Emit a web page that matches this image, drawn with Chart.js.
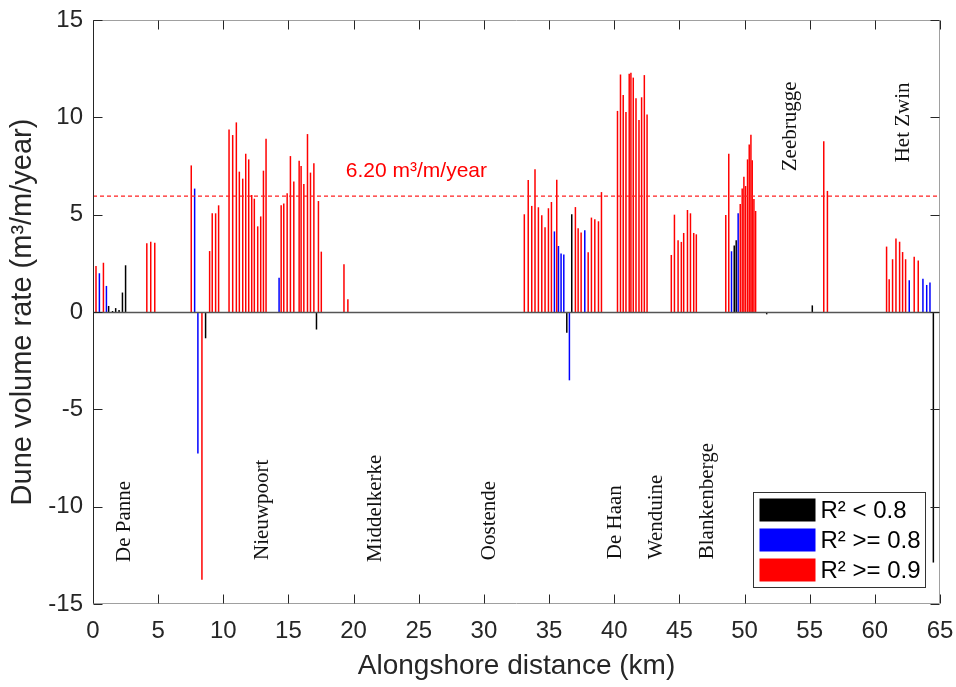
<!DOCTYPE html>
<html>
<head>
<meta charset="utf-8">
<script src="https://cdn.jsdelivr.net/npm/chart.js@4.4.0/dist/chart.umd.min.js"></script>
<style>
  html, body { margin: 0; padding: 0; background: #fff; }
  canvas { display: block; }
</style>
</head>
<body>
<canvas id="duneChart" width="956" height="687"></canvas>
<script>
// transects with R² < 0.8
var blackKm   = [1.2, 1.5, 1.74, 2.0, 2.26, 2.5, 8.64, 17.15, 36.36, 36.74, 49.21, 49.36, 51.7, 55.2, 64.49];
var blackRate = [0.31, 0.05, 0.2, 0.1, 1.0, 2.4, -1.35, -0.9, -1.06, 5.02, 3.42, 3.68, -0.12, 0.34, -12.87];

// transects with R² >= 0.8
var blueKm   = [0.49, 1.03, 7.8, 8.05, 14.28, 35.41, 35.72, 35.92, 36.13, 36.56, 37.74, 49.0, 49.51, 62.64, 63.69, 63.98, 64.23];
var blueRate = [1.99, 1.34, 6.34, -7.27, 1.76, 4.14, 3.39, 3.01, 2.96, -3.51, 4.2, 3.12, 5.07, 1.63, 1.71, 1.39, 1.51];

// transects with R² >= 0.9
var redKm = [0.23, 0.8, 4.13, 4.43, 4.74, 7.54, 8.36, 8.95, 9.15, 9.41, 9.64,
  10.44, 10.72, 11.0, 11.23, 11.49, 11.72, 11.95, 12.18, 12.38, 12.64, 12.87, 13.08, 13.28,
  14.44, 14.64, 14.9, 15.15, 15.41, 15.82, 15.97, 16.18, 16.46, 16.69, 16.95, 17.3, 17.52,
  19.26, 19.56,
  33.1, 33.4, 33.67, 33.92, 34.18, 34.44, 34.69, 34.95, 35.18, 35.59,
  37.02, 37.23, 37.46, 38.0, 38.25, 38.51, 38.79, 39.02,
  40.25, 40.48, 40.69, 40.9, 41.15, 41.28, 41.46, 41.67, 41.9, 42.1, 42.31, 42.52,
  44.38, 44.62, 44.9, 45.15, 45.33, 45.62, 45.85, 46.1, 46.3,
  48.56, 48.79, 49.67, 49.82, 49.95, 50.08, 50.23, 50.36, 50.49, 50.59, 50.72, 50.85,
  56.08, 56.36,
  60.9, 61.1, 61.36, 61.62, 61.9, 62.13, 62.36, 63.02, 63.33];
var redRate = [2.36, 2.53, 3.53, 3.61, 3.56, 7.53, -13.76, 3.13, 5.07, 5.07, 5.48,
  9.38, 9.09, 9.74, 7.21, 6.85, 8.13, 7.84, 6.01, 5.82, 4.4, 4.91, 7.26, 8.9,
  5.48, 5.58, 6.1, 8.01, 6.71, 7.77, 7.5, 6.58, 9.14, 7.16, 7.64, 5.7, 3.1,
  2.45, 0.65,
  5.02, 6.78, 5.45, 7.33, 5.38, 4.97, 4.35, 5.33, 5.65, 6.8,
  5.39, 4.3, 4.09, 3.07, 4.85, 4.76, 4.66, 6.16,
  10.33, 12.2, 11.15, 10.27, 12.24, 12.29, 12.04, 10.98, 9.86, 11.03, 12.17, 10.15,
  2.93, 5.0, 3.68, 3.6, 4.06, 5.24, 5.07, 4.06, 3.99,
  4.98, 8.13, 5.55, 6.34, 6.95, 6.47, 7.84, 8.61, 9.11, 7.79, 5.8, 5.19,
  8.77, 6.22,
  3.36, 1.68, 2.71, 3.78, 3.61, 3.08, 2.71, 2.84, 2.65];

var thresholdRate = 5.95;
var thresholdText = '6.20 m³/m/year';
var thresholdTextAt = [19.4, 6.92];

var towns    = ['De Panne', 'Nieuwpoort', 'Middelkerke', 'Oostende', 'De Haan', 'Wenduine', 'Blankenberge', 'Zeebrugge', 'Het Zwin'];
var townKm   = [2.85, 13.4, 22.1, 30.85, 40.5, 43.7, 47.57, 53.95, 62.6];
var townRate = [-12.84, -12.74, -12.84, -12.75, -12.7, -12.7, -12.7, 7.23, 7.69];

var legendLabels = ['R² < 0.8', 'R² >= 0.8', 'R² >= 0.9'];
var legendColours = ['#000000', '#0000ff', '#ff0000'];

function toPoints(xs, ys) {
    var pts = [];
    for (var i = 0; i < xs.length; i++) {
        pts.push({ x: xs[i], y: ys[i] });
    }
    return pts;
}

var sans = '"Liberation Sans", Arial, sans-serif';
var serif = '"Liberation Serif", "Times New Roman", serif';

const overlay = {
    id: 'overlay',
    afterDatasetsDraw(chart) {
        const { ctx, chartArea: a, scales: { x, y } } = chart;
        ctx.save();
        // zero line
        var y0 = Math.round(y.getPixelForValue(0)) + 0.5;
        ctx.strokeStyle = '#555555';
        ctx.lineWidth = 1.5;
        ctx.beginPath();
        ctx.moveTo(a.left, y0);
        ctx.lineTo(a.right, y0);
        ctx.stroke();
        ctx.restore();
    },
    afterDraw(chart) {
        const { ctx, chartArea: a, scales: { x, y } } = chart;
        var L = Math.round(a.left) + 0.5, R = Math.round(a.right) - 0.5;
        var T = Math.round(a.top) + 0.5, B = Math.round(a.bottom) - 0.5;
        ctx.save();
        ctx.lineWidth = 1;

        // box
        ctx.strokeStyle = '#a0a0a0';
        ctx.beginPath();
        ctx.moveTo(L, T); ctx.lineTo(R, T); ctx.lineTo(R, B); ctx.lineTo(L, B);
        ctx.stroke();
        ctx.strokeStyle = '#262626';
        ctx.beginPath();
        ctx.moveTo(L, T); ctx.lineTo(L, B);
        ctx.stroke();

        // inward ticks on all four sides
        ctx.strokeStyle = '#262626';
        ctx.beginPath();
        x.ticks.forEach(function (t) {
            var px = Math.round(x.getPixelForValue(t.value)) + 0.5;
            ctx.moveTo(px, B); ctx.lineTo(px, B - 9);
            ctx.moveTo(px, T); ctx.lineTo(px, T + 9);
        });
        y.ticks.forEach(function (t) {
            var py = Math.round(y.getPixelForValue(t.value)) + 0.5;
            ctx.moveTo(L, py); ctx.lineTo(L + 9, py);
            ctx.moveTo(R, py); ctx.lineTo(R - 9, py);
        });
        ctx.stroke();

        // town names
        ctx.fillStyle = '#111111';
        ctx.font = '21px ' + serif;
        ctx.textAlign = 'left';
        ctx.textBaseline = 'alphabetic';
        for (var i = 0; i < towns.length; i++) {
            ctx.save();
            ctx.translate(x.getPixelForValue(townKm[i]), y.getPixelForValue(townRate[i]));
            ctx.rotate(-Math.PI / 2);
            ctx.fillText(towns[i], 0, 0);
            ctx.restore();
        }

        // threshold label
        ctx.fillStyle = '#ff0000';
        ctx.font = '21px ' + sans;
        ctx.fillText(thresholdText, x.getPixelForValue(thresholdTextAt[0]), y.getPixelForValue(thresholdTextAt[1]));

        // legend box, bottom right inside the axes
        var bw = 172, bh = 95;
        var bx = Math.round(a.right - 15 - bw) + 0.5, by = Math.round(a.bottom - 17 - bh) + 0.5;
        ctx.fillStyle = '#ffffff';
        ctx.fillRect(bx, by, bw, bh);
        ctx.strokeStyle = '#333333';
        ctx.strokeRect(bx, by, bw, bh);
        ctx.font = '24px ' + sans;
        ctx.textBaseline = 'middle';
        for (var k = 0; k < legendLabels.length; k++) {
            var ry = by + 6 + k * 30;
            ctx.fillStyle = legendColours[k];
            ctx.fillRect(bx + 6, ry, 56, 23);
            ctx.fillStyle = '#000000';
            ctx.fillText(legendLabels[k], bx + 67, ry + 13);
        }
        ctx.restore();
    }
};

var barStyle = { barThickness: 1.5, grouped: false, borderWidth: 0, inflateAmount: 0 };

new Chart(document.getElementById('duneChart'), {
    type: 'bar',
    data: {
        datasets: [
            {
                type: 'line',
                data: [{ x: 0, y: thresholdRate }, { x: 65, y: thresholdRate }],
                borderColor: '#ff2020',
                borderWidth: 1.2,
                borderDash: [4, 3],
                pointRadius: 0,
                fill: false
            },
            Object.assign({ label: legendLabels[0], data: toPoints(blackKm, blackRate), backgroundColor: legendColours[0] }, barStyle),
            Object.assign({ label: legendLabels[1], data: toPoints(blueKm, blueRate), backgroundColor: legendColours[1] }, barStyle),
            Object.assign({ label: legendLabels[2], data: toPoints(redKm, redRate), backgroundColor: legendColours[2] }, barStyle)
        ]
    },
    options: {
        responsive: false,
        animation: false,
        layout: { padding: { top: 20, right: 16, left: 0, bottom: 0 } },
        plugins: { legend: { display: false }, tooltip: { enabled: false } },
        scales: {
            x: {
                type: 'linear',
                min: 0,
                max: 65,
                offset: false,
                grid: { display: false, drawTicks: false },
                border: { display: false },
                ticks: { stepSize: 5, padding: 13, color: '#262626', maxRotation: 0, autoSkip: false, font: { family: sans, size: 24 } },
                title: { display: true, text: 'Alongshore distance (km)', color: '#262626', font: { family: sans, size: 28 }, padding: { top: 0, bottom: 4 } },
                afterFit: function (s) { s.height = 83; s.paddingLeft = 0; s.paddingRight = 0; }
            },
            y: {
                min: -15,
                max: 15,
                grid: { display: false, drawTicks: false },
                border: { display: false },
                ticks: { stepSize: 5, padding: 10, color: '#262626', font: { family: sans, size: 24 } },
                title: { display: true, text: 'Dune volume rate (m³/m/year)', color: '#262626', font: { family: sans, size: 29 }, padding: { top: 6, bottom: 0 } },
                afterFit: function (s) { s.width = 93; s.paddingTop = 0; s.paddingBottom = 0; }
            }
        }
    },
    plugins: [overlay]
});
</script>
</body>
</html>
